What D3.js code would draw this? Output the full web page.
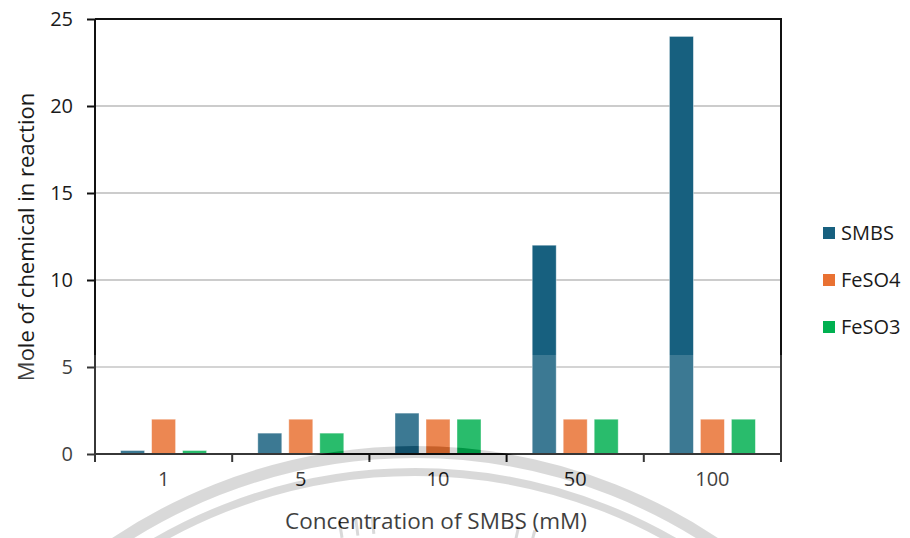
<!DOCTYPE html>
<html>
<head>
<meta charset="utf-8">
<script src="https://cdn.jsdelivr.net/npm/d3@7"></script>
<style>
  html, body { margin: 0; padding: 0; background: #ffffff; }
  svg { display: block; }
  text { font-family: "Open Sans", "Noto Sans", sans-serif; fill: #1a1a1a; }
</style>
</head>
<body>
<svg id="chart" width="910" height="538"></svg>
<script>
// SMBS concentrations (mM) on the x axis
const categories = ["1", "5", "10", "50", "100"];
const seriesNames = ["SMBS", "FeSO4", "FeSO3"];
// moles of each chemical in the reaction
const smbs  = [0.2, 1.2, 2.35, 12, 24];
const feso4 = [2, 2, 2, 2, 2];
const feso3 = [0.2, 1.2, 2, 2, 2];
const yTicks = [0, 5, 10, 15, 20, 25];
const seriesColors = ["#17607f", "#e97132", "#00b050"];

const values = [smbs, feso4, feso3];
const rows = categories.map((c, i) => ({
  cat: c,
  bars: seriesNames.map((s, k) => ({ series: s, value: values[k][i], color: seriesColors[k] }))
}));

const svg = d3.select("#chart");
const W = 910, H = 538;
const plot = { left: 95, right: 781, top: 19, bottom: 454 };
const FONT = "Open Sans, Noto Sans, sans-serif";

const x0 = d3.scaleBand().domain(categories).range([plot.left, plot.right]).padding(0);
const x1 = d3.scaleBand().domain(seriesNames).range([0, x0.bandwidth()])
  .paddingInner(0.226).paddingOuter(0.826);
const y = d3.scaleLinear().domain([0, 25]).range([plot.bottom, plot.top]);

// horizontal gridlines
svg.append("g").selectAll("line")
  .data(yTicks.filter(t => t > 0 && t < 25))
  .join("line")
  .attr("x1", plot.left).attr("x2", plot.right)
  .attr("y1", d => y(d)).attr("y2", d => y(d))
  .attr("stroke", "#cccccc").attr("stroke-width", 2);

// bars
svg.append("g").selectAll("g")
  .data(rows)
  .join("g")
  .attr("transform", d => `translate(${x0(d.cat)},0)`)
  .selectAll("rect")
  .data(d => d.bars)
  .join("rect")
  .attr("x", d => x1(d.series))
  .attr("width", x1.bandwidth())
  .attr("y", d => y(d.value))
  .attr("height", d => y(0) - y(d.value))
  .attr("fill", d => d.color)
  .attr("stroke", "#ffffff").attr("stroke-opacity", 0.5).attr("stroke-width", 0.8);

// y axis
const yAxis = svg.append("g")
  .attr("transform", `translate(${plot.left},0)`)
  .call(d3.axisLeft(y).tickValues(yTicks).tickSize(8).tickPadding(14));
yAxis.select(".domain").attr("stroke", "#111").attr("stroke-width", 2)
  .attr("d", `M0,${plot.top}V${plot.bottom + 8}`);
yAxis.selectAll(".tick line").attr("stroke", "#111").attr("stroke-width", 2);
yAxis.selectAll(".tick text").style("font-size", "20px").attr("fill", "#1a1a1a")
  .style("font-family", FONT);

// top and right frame
svg.append("line").attr("x1", plot.left).attr("x2", plot.right)
  .attr("y1", plot.top).attr("y2", plot.top).attr("stroke", "#111").attr("stroke-width", 2);
svg.append("line").attr("x1", plot.right).attr("x2", plot.right)
  .attr("y1", plot.top - 1).attr("y2", plot.bottom + 8).attr("stroke", "#111").attr("stroke-width", 2);

// x axis: labels at band centres, ticks at band boundaries
const xAxis = svg.append("g")
  .attr("transform", `translate(0,${plot.bottom})`)
  .call(d3.axisBottom(x0).tickSize(0).tickPadding(18));
xAxis.select(".domain").attr("stroke", "#111").attr("stroke-width", 2)
  .attr("d", `M${plot.left},0H${plot.right}`);
xAxis.selectAll(".tick text").style("font-size", "20px").attr("fill", "#1a1a1a")
  .style("font-family", FONT);
svg.append("g").selectAll("line")
  .data(d3.range(categories.length + 1))
  .join("line")
  .attr("x1", i => plot.left + i * x0.step()).attr("x2", i => plot.left + i * x0.step())
  .attr("y1", plot.bottom).attr("y2", plot.bottom + 8)
  .attr("stroke", "#111").attr("stroke-width", 2);

// axis titles
svg.append("text")
  .attr("transform", "translate(34,237) rotate(-90)")
  .attr("text-anchor", "middle")
  .style("font-size", "22px")
  .text("Mole of chemical in reaction");
svg.append("text")
  .attr("x", (plot.left + plot.right) / 2 - 2).attr("y", 529)
  .attr("text-anchor", "middle")
  .style("font-size", "22.5px")
  .text("Concentration of SMBS (mM)");

// legend
const legend = svg.append("g").attr("transform", "translate(823,233)");
const li = legend.selectAll("g").data(seriesNames).join("g")
  .attr("transform", (d, i) => `translate(0,${i * 47})`);
li.append("rect").attr("x", 0).attr("y", -6).attr("width", 12).attr("height", 12)
  .attr("fill", (d, i) => seriesColors[i]);
li.append("text").attr("x", 18).attr("y", 0).attr("dy", "0.35em")
  .style("font-size", "20px").text(d => d);

// faint seal printed over the lower part of the page
const seal = { cx: 415, cy: 990 };
const rings = [{ r: 538, w: 12 }, { r: 518, w: 8 }];
const spokes = [-0.16, -0.125, -0.09, 0.22, 0.255];
const defs = svg.append("defs");
const mask = defs.append("mask").attr("id", "sealMask");
mask.append("rect").attr("width", W).attr("height", H).attr("fill", "#fff");
function drawSeal(g, color) {
  g.selectAll("circle").data(rings).join("circle")
    .attr("cx", seal.cx).attr("cy", seal.cy).attr("r", d => d.r)
    .attr("fill", "none").attr("stroke", color).attr("stroke-width", d => d.w);
  g.selectAll("line").data(spokes).join("line")
    .attr("x1", a => seal.cx + 458 * Math.sin(a)).attr("y1", a => seal.cy - 458 * Math.cos(a))
    .attr("x2", a => seal.cx + 475 * Math.sin(a)).attr("y2", a => seal.cy - 475 * Math.cos(a))
    .attr("stroke", color).attr("stroke-width", 3);
}
drawSeal(mask.append("g"), "#000");
svg.append("rect").attr("x", 0).attr("y", 355).attr("width", W).attr("height", H - 355)
  .attr("fill", "#fff").attr("fill-opacity", 0.16).attr("mask", "url(#sealMask)");
defs.append("clipPath").attr("id", "sealClip")
  .append("rect").attr("x", 0).attr("y", 355).attr("width", W).attr("height", H - 355);
drawSeal(svg.append("g").attr("clip-path", "url(#sealClip)"), "rgba(0,0,0,0.15)");
</script>
</body>
</html>
